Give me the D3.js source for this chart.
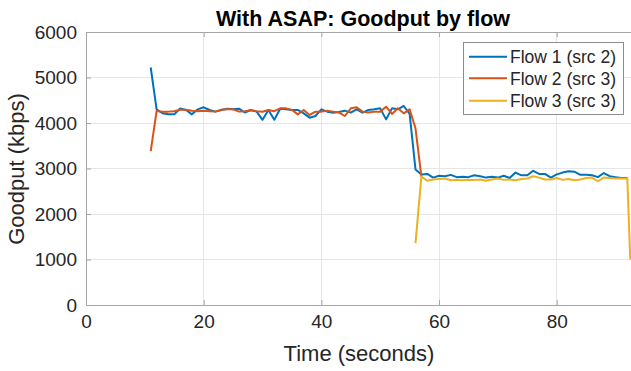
<!DOCTYPE html>
<html><head><meta charset="utf-8">
<script src="https://cdn.jsdelivr.net/npm/d3@7"></script>
<style>body{margin:0;background:#fff} svg{display:block;font-family:"Liberation Sans",Arial,Helvetica,sans-serif}</style>
</head><body><svg id="c" width="631" height="371"></svg>
<script>
const title = "With ASAP: Goodput by flow";
const xLabel = "Time (seconds)";
const yLabel = "Goodput (kbps)";
const xTicks = [0, 20, 40, 60, 80];
const yTicks = [0, 1000, 2000, 3000, 4000, 5000, 6000];
const seriesNames = ["Flow 1 (src 2)", "Flow 2 (src 3)", "Flow 3 (src 3)"];
const seriesColors = ["#0072BD", "#D95319", "#EDB120"];

const flow1Time = [11,12,13,14,15,16,17,18,19,20,21,22,23,24,25,26,27,28,29,30,31,32,33,34,35,36,37,38,39,40,41,42,43,44,45,46,47,48,49,50,51,52,53,54,55,56,57,58,59,60,61,62,63,64,65,66,67,68,69,70,71,72,73,74,75,76,77,78,79,80,81,82,83,84,85,86,87,88,89,90,91,92];
const flow1Values = [5220,4300,4215,4190,4190,4320,4286,4190,4300,4345,4286,4250,4286,4315,4300,4315,4230,4286,4250,4070,4286,4070,4315,4300,4286,4286,4212,4117,4154,4300,4249,4227,4240,4271,4227,4300,4227,4286,4300,4322,4080,4322,4300,4374,4200,2980,2870,2880,2800,2840,2830,2860,2810,2820,2810,2850,2830,2800,2820,2800,2840,2790,2910,2850,2850,2950,2880,2880,2800,2870,2910,2940,2930,2860,2860,2850,2810,2900,2830,2810,2790,2790];

const flow2Time = [11,12,13,14,15,16,17,18,19,20,21,22,23,24,25,26,27,28,29,30,31,32,33,34,35,36,37,38,39,40,41,42,43,44,45,46,47,48,49,50,51,52,53,54,55,56,57];
const flow2Values = [3380,4264,4250,4250,4260,4290,4290,4270,4260,4270,4260,4250,4290,4300,4300,4250,4260,4280,4260,4249,4286,4260,4322,4322,4286,4190,4286,4176,4250,4250,4270,4250,4230,4154,4322,4344,4250,4230,4250,4250,4359,4200,4322,4212,4300,3883,2820];

const flow3Time = [56,57,58,59,60,61,62,63,64,65,66,67,68,69,70,71,72,73,74,75,76,77,78,79,80,81,82,83,84,85,86,87,88,89,90,91,92,92.5];
const flow3Values = [1360,2820,2730,2760,2770,2780,2740,2750,2740,2750,2750,2760,2730,2760,2780,2750,2760,2740,2770,2780,2830,2800,2760,2760,2790,2750,2770,2740,2760,2790,2800,2720,2800,2790,2780,2780,2780,1000];

const series = [
  {t: flow1Time, v: flow1Values},
  {t: flow2Time, v: flow2Values},
  {t: flow3Time, v: flow3Values}
];

const svg = d3.select("#c");
const L = 86, T = 32, B = 305;
const x = d3.scaleLinear().domain([0, 92.6]).range([L, L + 5.884 * 92.6]);
const y = d3.scaleLinear().domain([0, 6000]).range([B, T]);
const R = x.range()[1] + 10;
const axisCol = "#a6a6a6", textCol = "#262626", gridCol = "#e6e6e6";

// grid
svg.append("g").selectAll("line").data(xTicks.filter(d => d > 0)).join("line")
  .attr("x1", d => x(d)).attr("x2", d => x(d)).attr("y1", T).attr("y2", B)
  .attr("stroke", gridCol).attr("stroke-width", 1).attr("shape-rendering", "crispEdges");
svg.append("g").selectAll("line").data(yTicks.filter(d => d > 0 && d < 6000)).join("line")
  .attr("x1", L).attr("x2", R).attr("y1", d => y(d)).attr("y2", d => y(d))
  .attr("stroke", gridCol).attr("stroke-width", 1).attr("shape-rendering", "crispEdges");

// axes
const fmt = d3.format("d");
const xAxis = svg.append("g").attr("transform", `translate(0,${B})`)
  .call(d3.axisBottom(x).tickValues(xTicks).tickFormat(fmt).tickSizeInner(-5).tickSizeOuter(0).tickPadding(10));
const xTop = svg.append("g").attr("transform", `translate(0,${T})`)
  .call(d3.axisTop(x).tickValues(xTicks).tickSizeInner(-5).tickSizeOuter(0).tickFormat(""));
const yAxis = svg.append("g").attr("transform", `translate(${L},0)`)
  .call(d3.axisLeft(y).tickValues(yTicks).tickFormat(fmt).tickSizeInner(-5).tickSizeOuter(0).tickPadding(9));
[xAxis, xTop, yAxis].forEach(g => {
  g.select(".domain").attr("stroke", axisCol).attr("stroke-width", 1);
  g.selectAll(".tick line").attr("stroke", axisCol);
  g.selectAll("text").attr("fill", textCol).style("font-size", "19px");
});
xAxis.select(".domain").attr("d", `M${L},0.5H${R}`);
xTop.select(".domain").attr("d", `M${L},0.5H${R}`);
xAxis.selectAll("text").attr("dy", "0.71em");

// lines
const line = d3.line().x(d => x(d[0])).y(d => y(d[1]));
series.forEach((s, i) => {
  svg.append("path")
    .datum(s.t.map((t, k) => [t, s.v[k]]))
    .attr("d", line).attr("fill", "none")
    .attr("stroke", seriesColors[i]).attr("stroke-width", 2)
    .attr("stroke-linejoin", "round");
});

// title & labels
svg.append("text").attr("x", 363).attr("y", 26).attr("text-anchor", "middle")
  .attr("font-weight", "bold").attr("font-size", "21.5px").attr("fill", "#000").text(title);
svg.append("text").attr("x", 359).attr("y", 361).attr("text-anchor", "middle")
  .attr("font-size", "22px").attr("fill", textCol).text(xLabel);
svg.append("text").attr("transform", "translate(24,169) rotate(-90)").attr("text-anchor", "middle")
  .attr("font-size", "22px").attr("fill", textCol).text(yLabel);

// legend
const lg = svg.append("g");
lg.append("rect").attr("x", 463.5).attr("y", 42.5).attr("width", 160).attr("height", 72)
  .attr("fill", "#fff").attr("stroke", "#8c8c8c").attr("stroke-width", 1);
const rowsY = [56.7, 78.3, 100.7];
seriesNames.forEach((n, i) => {
  lg.append("line").attr("x1", 469).attr("x2", 507).attr("y1", rowsY[i]).attr("y2", rowsY[i])
    .attr("stroke", seriesColors[i]).attr("stroke-width", 2);
  lg.append("text").attr("x", 510).attr("y", rowsY[i]).attr("dy", "0.36em")
    .attr("font-size", "17.5px").attr("fill", textCol).text(n);
});
</script></body></html>
